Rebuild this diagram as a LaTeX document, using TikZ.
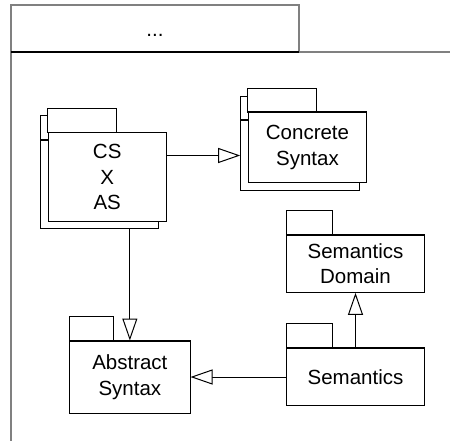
\documentclass[tikz,border=0pt]{standalone}
\usepackage{fontspec}
\setmainfont{Liberation Sans}
\usetikzlibrary{arrows.meta, positioning, calc}

\newcommand{\pkgfont}{\fontsize{20.5}{25.7}\selectfont}
% tab on top of a package body: node, width, height
\newcommand{\pkgtab}[3]{%
  \draw[tab] (#1.north west) rectangle ++(#2pt,#3pt);
  \draw[topline] (#1.north west) -- (#1.north east);}

\begin{document}
\begin{tikzpicture}[
                x=1pt, y=-1pt,
                pkg/.style={rectangle, draw, fill=white, line width=1pt, inner sep=0pt, font=\pkgfont, align=center},
                tab/.style={draw, fill=white, line width=1pt},
                topline/.style={line width=1.8pt},
                gen/.style={-{Triangle[open, length=22pt, width=15pt, fill=white]}, line width=1pt},
                frame/.style={draw=gray, line width=1.5pt}
            ]
                \path[use as bounding box] (0,0) rectangle (450,441);

                % Frame
                \draw[frame] (11,441) -- (11,5) -- (299,5) -- (299,52) -- (450,52);
                \draw[topline] (11,52) -- (299,52);
                \node[font=\pkgfont, anchor=base] (title) at (155,36.5) {...};

                % CS X AS
                \node[pkg, minimum width=117.7pt, minimum height=88pt] (csasback) at (99.7,184.5) {};
                \pkgtab{csasback}{68.4}{24}
                \node[pkg, minimum width=117.7pt, minimum height=88pt] (csas) at ($(csasback)+(7.5,-7.5)$) {CS\\X\\AS};
                \pkgtab{csas}{68.4}{24}

                % Concrete Syntax
                \node[pkg, minimum width=118.4pt, minimum height=69.6pt] (concback) at (299.9,155.5) {};
                \pkgtab{concback}{68.4}{23.7}
                \node[pkg, minimum width=118.4pt, minimum height=69.6pt] (conc) at ($(concback)+(7.6,-8)$) {Concrete\\Syntax};
                \pkgtab{conc}{68.4}{23.7}

                % Semantics Domain
                \node[pkg, minimum width=137.6pt, minimum height=57.3pt] (dom) at (355.5,263.7) {Semantics\\Domain};
                \pkgtab{dom}{46.6}{24.3}

                % Semantics
                \node[pkg, minimum width=137.6pt, minimum height=57.4pt] (sem) at (355.5,377) {Semantics};
                \pkgtab{sem}{46.6}{24}

                % Abstract Syntax
                \node[pkg, minimum width=120.3pt, minimum height=72pt] (abs) at (129.85,377) {Abstract\\Syntax};
                \pkgtab{abs}{44.6}{23.7}

                % Edges
                \draw[gen] (csas.east |- concback.west) -- (concback.west);
                \draw[gen] (abs.north |- csasback.south) -- (abs.north);
                \draw[gen] (sem) -- (abs);
                \draw[gen] (sem) -- (dom);
            \end{tikzpicture}
\end{document}
